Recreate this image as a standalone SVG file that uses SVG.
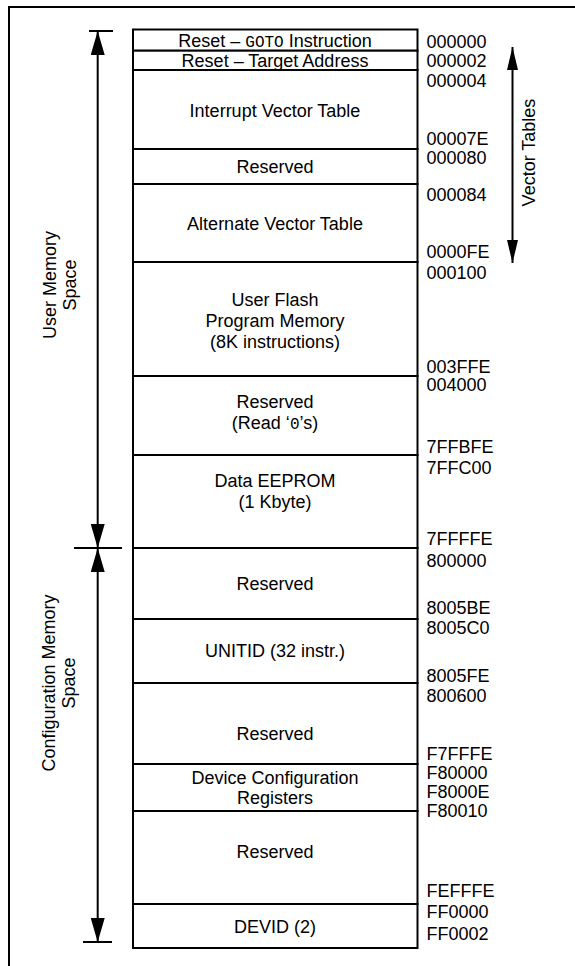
<svg xmlns="http://www.w3.org/2000/svg" width="575" height="966" viewBox="0 0 575 966">
<style>
text{font-family:"Liberation Sans",Arial,sans-serif;font-size:18px;fill:#000}
.c{text-anchor:middle}
.m{font-family:"Liberation Mono","Courier New",monospace;font-size:16px}
.ln{stroke:#000;stroke-width:2;fill:none}
.row{fill:#fff;stroke:#000;stroke-width:2}
</style>
<defs>
<marker id="ah" viewBox="0 0 24 14" refX="24" refY="7" markerWidth="24" markerHeight="14" markerUnits="userSpaceOnUse" orient="auto-start-reverse">
<path d="M0,0 L24,7 L0,14 Z" fill="#000"/>
</marker>
<marker id="ah2" viewBox="0 0 23 11" refX="23" refY="5.5" markerWidth="23" markerHeight="11" markerUnits="userSpaceOnUse" orient="auto-start-reverse">
<path d="M0,0 L23,5.5 L0,11 Z" fill="#000"/>
</marker>
</defs>
<path class="ln" d="M9,966 V7 H575"/>
<g id="row-goto"><rect class="row" x="133" y="29.5" width="284.5" height="21.2"/><text class="c" x="275" y="46.5">Reset – <tspan class="m">GOTO</tspan> Instruction</text></g>
<g id="row-target"><rect class="row" x="133" y="50.7" width="284.5" height="19.3"/><text class="c" x="275" y="66.5">Reset – Target Address</text></g>
<g id="row-ivt"><rect class="row" x="133" y="70" width="284.5" height="79"/><text class="c" x="275" y="116.5">Interrupt Vector Table</text></g>
<g id="row-res1"><rect class="row" x="133" y="149" width="284.5" height="35"/><text class="c" x="275" y="173">Reserved</text></g>
<g id="row-avt"><rect class="row" x="133" y="184" width="284.5" height="78"/><text class="c" x="275" y="229.5">Alternate Vector Table</text></g>
<g id="row-flash"><rect class="row" x="133" y="262" width="284.5" height="114"/><text class="c" x="275" y="306">User Flash</text><text class="c" x="275" y="327">Program Memory</text><text class="c" x="275" y="348">(8K instructions)</text></g>
<g id="row-res2"><rect class="row" x="133" y="376" width="284.5" height="79"/><text class="c" x="275" y="408">Reserved</text><text class="c" x="275" y="429">(Read ‘<tspan class="m">0</tspan>’s)</text></g>
<g id="row-eeprom"><rect class="row" x="133" y="455" width="284.5" height="93"/><text class="c" x="275" y="487">Data EEPROM</text><text class="c" x="275" y="508">(1 Kbyte)</text></g>
<g id="row-res3"><rect class="row" x="133" y="548" width="284.5" height="71"/><text class="c" x="275" y="590">Reserved</text></g>
<g id="row-unitid"><rect class="row" x="133" y="619" width="284.5" height="64"/><text class="c" x="275" y="657">UNITID (32 instr.)</text></g>
<g id="row-res4"><rect class="row" x="133" y="683" width="284.5" height="81"/><text class="c" x="275" y="740">Reserved</text></g>
<g id="row-devcfg"><rect class="row" x="133" y="764" width="284.5" height="47"/><text class="c" x="275" y="784">Device Configuration</text><text class="c" x="275" y="804">Registers</text></g>
<g id="row-res5"><rect class="row" x="133" y="811" width="284.5" height="93"/><text class="c" x="275" y="858">Reserved</text></g>
<g id="row-devid"><rect class="row" x="133" y="904" width="284.5" height="44"/><text class="c" x="275" y="933">DEVID (2)</text></g>
<g id="addresses">
<text x="426.5" y="47.7">000000</text>
<text x="426.5" y="66.7">000002</text>
<text x="426.5" y="86.7">000004</text>
<text x="426.5" y="145">00007E</text>
<text x="426.5" y="163.5">000080</text>
<text x="426.5" y="200.7">000084</text>
<text x="426.5" y="257.5">0000FE</text>
<text x="426.5" y="278.5">000100</text>
<text x="426.5" y="372.5">003FFE</text>
<text x="426.5" y="391">004000</text>
<text x="426.5" y="452.5">7FFBFE</text>
<text x="426.5" y="474">7FFC00</text>
<text x="426.5" y="545">7FFFFE</text>
<text x="426.5" y="567">800000</text>
<text x="426.5" y="614">8005BE</text>
<text x="426.5" y="634">8005C0</text>
<text x="426.5" y="682">8005FE</text>
<text x="426.5" y="702">800600</text>
<text x="426.5" y="760">F7FFFE</text>
<text x="426.5" y="779">F80000</text>
<text x="426.5" y="798">F8000E</text>
<text x="426.5" y="817">F80010</text>
<text x="426.5" y="897">FEFFFE</text>
<text x="426.5" y="918">FF0000</text>
<text x="426.5" y="939.5">FF0002</text>
</g>
<g id="connectors">
<path class="ln" d="M89,31 H113 M74,548 H122 M83,942 H112"/>
<line class="ln" x1="97.7" y1="31" x2="97.7" y2="548" marker-start="url(#ah)" marker-end="url(#ah)"/>
<line class="ln" x1="97.7" y1="548" x2="97.7" y2="942" marker-start="url(#ah)" marker-end="url(#ah)"/>
<line class="ln" x1="512.5" y1="47" x2="512.5" y2="263" marker-start="url(#ah2)" marker-end="url(#ah2)"/>
</g>
<g id="label-vector"><text class="c" transform="translate(535,152.5) rotate(-90)">Vector Tables</text></g>
<g id="label-user"><text class="c" transform="translate(55.5,285) rotate(-90)">User Memory</text><text class="c" transform="translate(76,285) rotate(-90)">Space</text></g>
<g id="label-config"><text class="c" transform="translate(54.5,683) rotate(-90)">Configuration Memory</text><text class="c" transform="translate(75,683) rotate(-90)">Space</text></g>
</svg>
